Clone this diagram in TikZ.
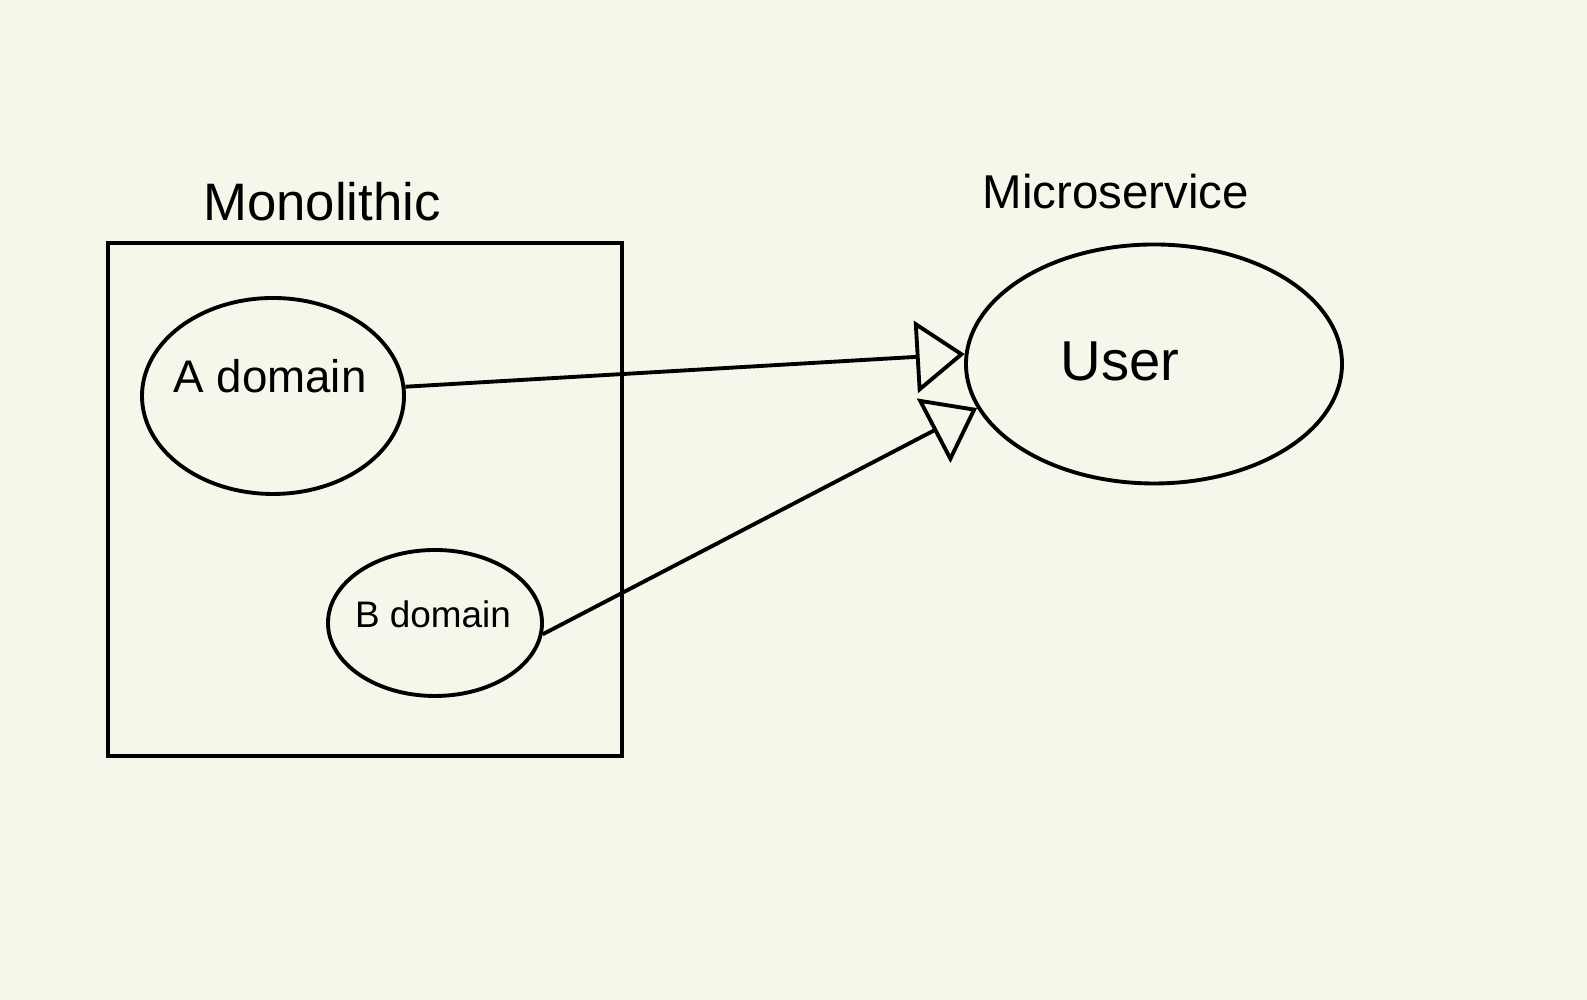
\documentclass[tikz,border=0pt]{standalone}
\usepackage{fontspec}
\setmainfont{Liberation Sans}
\usetikzlibrary{shapes.geometric,arrows.meta}
\definecolor{paper}{HTML}{F7F6EA}
\tikzset{
  domainoval/.style={draw, ellipse, line width=1.1pt, inner sep=0pt},
  toservice/.style={-{Triangle[open, length=0.49cm, width=0.72cm, line width=1.1pt]}, line width=1.1pt}
}
\begin{document}
\begin{tikzpicture}
\fill[paper] (0,0) rectangle (15.87,10);
\useasboundingbox (0,0) rectangle (15.87,10);

\node[draw, line width=1.1pt, minimum width=5.14cm, minimum height=5.13cm, inner sep=0pt] (mono) at (3.65,5.005) {};
\node (monotitle) at (3.22,7.98) {\fontsize{15}{18}\selectfont Monolithic};
\node (microtitle) at (11.16,8.08) {\fontsize{13.5}{16}\selectfont Microservice};

\node[domainoval, minimum width=2.62cm, minimum height=1.96cm] (a) at (2.73,6.04) {};
\node (atext) at (2.70,6.24) {\fontsize{13}{16}\selectfont A domain};
\node[domainoval, minimum width=2.14cm, minimum height=1.46cm] (b) at (4.35,3.77) {};
\node (btext) at (4.33,3.86) {\fontsize{10.5}{13}\selectfont B domain};
\node[domainoval, minimum width=3.76cm, minimum height=2.39cm] (user) at (11.54,6.36) {};
\node (usertext) at (11.20,6.39) {\fontsize{16}{19}\selectfont User};

\draw[toservice] (a.4) -- (user.177);
\draw[toservice] (b.354) -- (user.194);
\end{tikzpicture}
\end{document}
